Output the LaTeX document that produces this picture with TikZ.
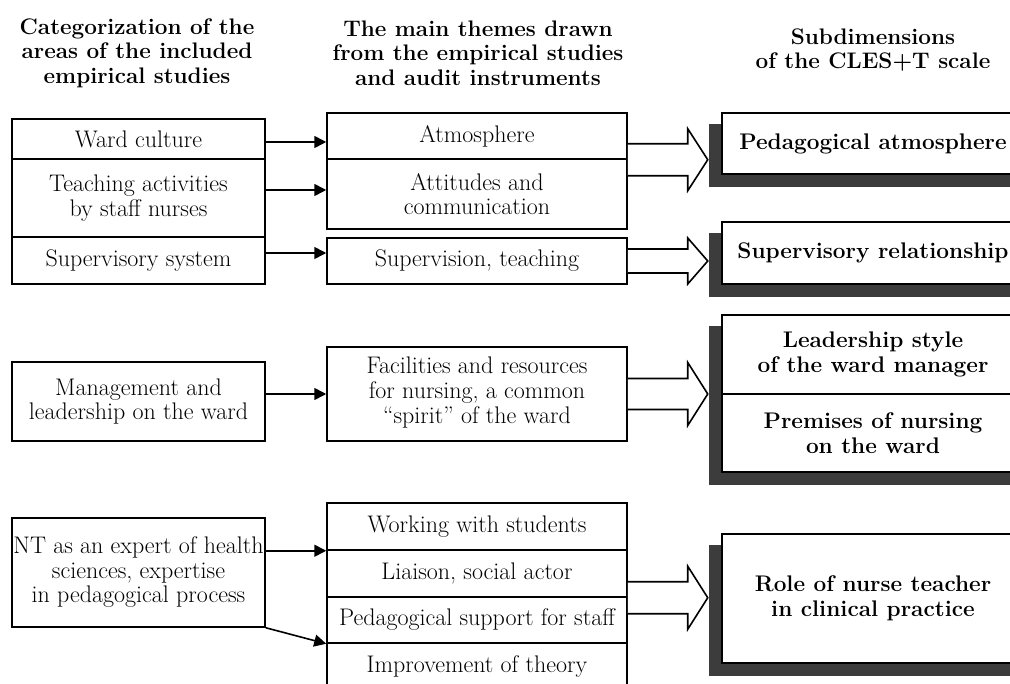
\documentclass[tikz,border=0pt]{standalone}
\usepackage{fontspec}
\usetikzlibrary{arrows.meta,backgrounds}
\definecolor{shade}{HTML}{3C3C3C}
\tikzset{
  box/.style={draw=black, line width=1.5pt, fill=white, inner sep=0pt, align=center,
    font=\fontsize{24}{24.5}\selectfont},
  sbox/.style={box, font=\fontsize{22.6}{25}\selectfont\bfseries},
  head/.style={align=center, font=\fontsize{22.5}{24.5}\selectfont\bfseries},
  conn/.style={line width=1.6pt, -{Triangle[length=12pt,width=12pt]}},
  blockarr/.style={draw=black, line width=1.6pt, fill=white, line join=miter},
  shadowfill/.style={fill=shade},
}
\newcommand\bigarrow[3]{\draw[blockarr, shift={(#1)}] (0,-#2) -- (60,-#2) -- (60,-#3) -- (80,0) -- (60,#3) -- (60,#2) -- (0,#2);}
\begin{document}
\begin{tikzpicture}[x=1pt,y=-1pt]
\useasboundingbox (0,0) rectangle (1010,684);
% headers
\node[head] (h1) at (137,53) {Categorization of the\\areas of the included\\empirical studies};
\node[head] (h2) at (478,53) {The main themes drawn\\from the empirical studies\\and audit instruments};
\node[head] (h3) at (873,50) {Subdimensions\\of the CLES+T scale};
% column 1
\node[box, minimum width=253pt, minimum height=40pt] (c1a) at (138.5,139) {Ward culture};
\node[box, minimum width=253pt, minimum height=78pt] (c1b) at (138.5,198) {Teaching activities\\by staff nurses};
\node[box, minimum width=253pt, minimum height=47pt] (c1c) at (138.5,260.5) {Supervisory system};
\node[box, minimum width=253pt, minimum height=79pt] (c1d) at (138.5,401.5) {Management and\\leadership on the ward};
\node[box, minimum width=253pt, minimum height=109pt] (c1e) at (138.5,572.5) {NT as an expert of health\\sciences, expertise\\in pedagogical process};
% column 2
\node[box, minimum width=300pt, minimum height=46pt] (c2a) at (477,136) {Atmosphere};
\node[box, minimum width=300pt, minimum height=70pt] (c2b) at (477,194) {Attitudes and\\communication};
\node[box, minimum width=300pt, minimum height=46pt] (c2c) at (477,261) {Supervision, teaching};
\node[box, minimum width=300pt, minimum height=94pt] (c2d) at (477,394) {\raisebox{5pt}{\begin{tabular}{@{}c@{}}Facilities and resources\\[0.5pt]for nursing, a common\\[0.5pt]“spirit” of the ward\end{tabular}}};
\node[box, minimum width=300pt, minimum height=47pt] (c2e) at (477,526.5) {Working with students};
\node[box, minimum width=300pt, minimum height=47pt] (c2f) at (477,573.5) {Liaison, social actor};
\node[box, minimum width=300pt, minimum height=46pt] (c2g) at (477,620) {Pedagogical support for staff};
\node[box, minimum width=300pt, minimum height=47pt] (c2h) at (477,666.5) {Improvement of theory};
% column 3
\node[sbox, minimum width=302pt, minimum height=61pt] (c3a) at (873,143.5) {Pedagogical atmosphere};
\node[sbox, minimum width=302pt, minimum height=62pt] (c3b) at (873,253) {Supervisory relationship};
\node[sbox, minimum width=302pt, minimum height=79pt] (c3c) at (873,354.5) {Leadership style\\of the ward manager};
\node[sbox, minimum width=302pt, minimum height=78pt] (c3d) at (873,433) {Premises of nursing\\on the ward};
\node[sbox, minimum width=302pt, minimum height=129pt] (c3e) at (873,598.5) {Role of nurse teacher\\in clinical practice};
% shadows
\begin{scope}[on background layer]
\fill[shadowfill] ([shift={(-12,12)}]c3a.north west) rectangle ([shift={(-12,12)}]c3a.south east);
\fill[shadowfill] ([shift={(-12,12)}]c3b.north west) rectangle ([shift={(-12,12)}]c3b.south east);
\fill[shadowfill] ([shift={(-12,12)}]c3c.north west) rectangle ([shift={(-12,12)}]c3d.south east);
\fill[shadowfill] ([shift={(-12,12)}]c3e.north west) rectangle ([shift={(-12,12)}]c3e.south east);
\end{scope}
% thin connectors
\draw[conn] ([yshift=-3pt]c1a.east) -- ([yshift=-3pt]c1a.east -| c2a.west);
\draw[conn] ([yshift=8pt]c1b.east) -- ([yshift=8pt]c1b.east -| c2b.west);
\draw[conn] ([yshift=7.5pt]c1c.east) -- ([yshift=7.5pt]c1c.east -| c2c.west);
\draw[conn] (c2d.west -| c1d.east) -- (c2d.west);
\draw[conn] (c2e.south west -| c1e.east) -- (c2e.south west);
\draw[conn] (c1e.south east) -- (c2g.south west);
% block arrows
\bigarrow{c2a.south east}{16}{31}
\bigarrow{c2c.east}{12}{23}
\bigarrow{c2d.east}{15.5}{31.5}
\bigarrow{c2f.south east}{16}{31.5}
\end{tikzpicture}
\end{document}
